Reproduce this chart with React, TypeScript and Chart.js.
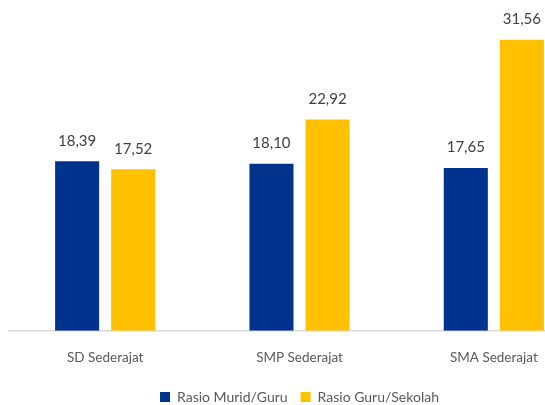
import React, { useEffect, useRef } from "react";
import { Chart, registerables } from "chart.js";

Chart.register(...registerables);

const categories = ["SD Sederajat", "SMP Sederajat", "SMA Sederajat"];
const seriesNames = ["Rasio Murid/Guru", "Rasio Guru/Sekolah"];
const muridGuru = [18.39, 18.1, 17.65];
const guruSekolah = [17.52, 22.92, 31.56];
const colors = ["#00338d", "#ffc000"];

const FONT = "Lato, 'Open Sans', sans-serif";

const labelPlugin = {
  id: "valueLabels",
  afterDatasetsDraw(chart: any) {
    const ctx = chart.ctx;
    ctx.save();
    ctx.font = `15px ${FONT}`;
    ctx.fillStyle = "#404040";
    ctx.textAlign = "center";
    ctx.textBaseline = "bottom";
    chart.data.datasets.forEach((ds: any, i: number) => {
      const meta = chart.getDatasetMeta(i);
      meta.data.forEach((bar: any, j: number) => {
        const v = ds.data[j] as number;
        ctx.fillText(v.toFixed(2).replace(".", ","), bar.x, bar.y - 13);
      });
    });
    ctx.restore();
  },
};

export default function App() {
  const ref = useRef<HTMLCanvasElement>(null);
  useEffect(() => {
    document.body.style.overflow = "hidden";
    const chart = new Chart(ref.current!, {
      type: "bar",
      data: {
        labels: categories,
        datasets: [
          { label: seriesNames[0], data: muridGuru, backgroundColor: colors[0] },
          { label: seriesNames[1], data: guruSekolah, backgroundColor: colors[1] },
        ],
      },
      options: {
        responsive: false,
        animation: false,
        events: [],
        layout: { padding: { top: 8, left: 0, right: 0, bottom: 0 } },
        datasets: { bar: { categoryPercentage: 0.577, barPercentage: 0.786 } } as any,
        scales: {
          x: {
            grid: { display: false },
            border: { display: true, color: "#d9d9d9", width: 1.5 },
            ticks: { color: "#595959", font: { family: FONT, size: 13.5 }, padding: 11 },
          },
          y: { display: false, min: 0, max: 35 },
        },
        plugins: {
          legend: {
            position: "bottom",
            labels: {
              color: "#595959",
              font: { family: FONT, size: 14 },
              boxWidth: 10,
              boxHeight: 10,
              padding: 13,
            },
          },
          tooltip: { enabled: false },
        },
      },
      plugins: [labelPlugin],
    });
    return () => chart.destroy();
  }, []);
  return (
    <div style={{ position: "fixed", left: 0, top: 0, width: 545, height: 405, overflow: "hidden", background: "#fff" }}>
      <canvas ref={ref} width={583} height={414} style={{ position: "absolute", left: 8, top: 0 }} />
    </div>
  );
}
